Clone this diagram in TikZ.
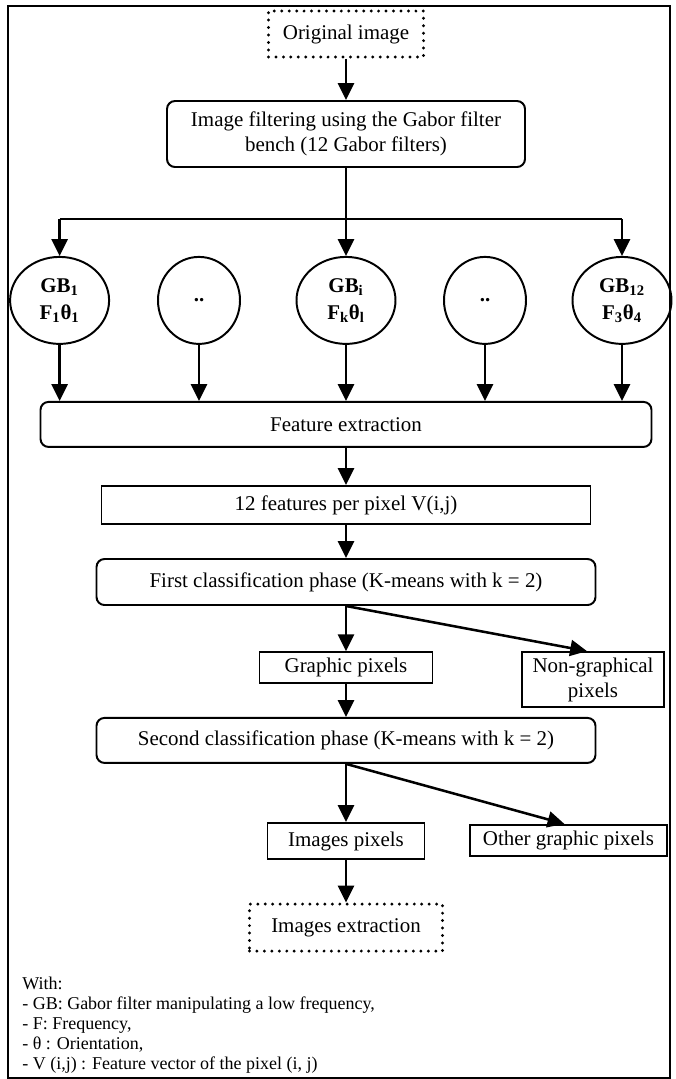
\documentclass[tikz,border=0pt]{standalone}
\usepackage{fontspec}
\setmainfont{Liberation Serif}
\usepackage{tikz}
\usetikzlibrary{positioning, arrows.meta, calc, shapes.geometric}

\begin{document}
\begin{tikzpicture}[
  txt/.style={font=\fontsize{14.9}{17.8}\selectfont, align=center, inner sep=0pt},
  proc/.style={txt, draw, line width=1.4pt},
  rproc/.style={proc, rounded corners=0.2cm},
  term/.style={txt, draw, line width=2.3pt, dash pattern=on 0pt off 5.3pt, line cap=round},
  gab/.style={txt, draw, ellipse, line width=1.4pt, minimum height=2.175cm, font=\fontsize{14.9}{19}\selectfont\bfseries},
  arr/.style={line width=1.8pt, -{Triangle[length=0.42cm,width=0.4cm]}}
]
\useasboundingbox (0, 0) rectangle (16.875, -26.975);
\draw[line width=1.4pt] (0.2, -0.15) rectangle (16.75, -26.95);

% top of the chain
\node[term, minimum width=3.875cm, minimum height=1.15cm] (orig) at (8.65, -0.85) {Original image};
\node[rproc, minimum width=8.95cm, minimum height=1.65cm] (filt) at (8.65, -3.35) {Image filtering using the Gabor filter\\bench (12 Gabor filters)};
\draw[arr] (orig) -- (filt);

% the 12 Gabor filters
\node[gab, minimum width=2.475cm] (gb1) at (1.49, -7.51) {GB\textsubscript{1}\\F\textsubscript{1}θ\textsubscript{1}};
\node[gab, minimum width=2.05cm] (dots1) at (4.975, -7.51) {..};
\node[gab, minimum width=2.475cm] (gbi) at (8.65, -7.51) {GB\textsubscript{i}\\F\textsubscript{k}θ\textsubscript{l}};
\node[gab, minimum width=2.05cm] (dots2) at (12.125, -7.51) {..};
\node[gab, minimum width=2.475cm] (gb12) at (15.55, -7.51) {GB\textsubscript{12}\\F\textsubscript{3}θ\textsubscript{4}};
\coordinate (split) at (8.65, -5.475);
\draw[line width=1.8pt] (gb1.north |- split) -- (gb12.north |- split);
\draw[arr] (filt) -- (gbi);
\draw[arr] (gb1.north |- split) -- (gb1.north);
\draw[arr] (gb12.north |- split) -- (gb12.north);

% features
\node[rproc, minimum width=15.275cm, minimum height=1.125cm] (feat) at (8.65, -10.61) {Feature extraction};
\foreach \g in {gb1, dots1, gbi, dots2, gb12}
  \draw[arr] (\g.south) -- (\g.south |- feat.north);
\node[proc, minimum width=12.225cm, minimum height=0.95cm] (vec) at (8.65, -12.625) {12 features per pixel V(i,j)};
\draw[arr] (feat) -- (vec);

% first classification
\node[rproc, minimum width=12.475cm, minimum height=1.15cm] (cls1) at (8.65, -14.55) {First classification phase (K-means with k = 2)};
\draw[arr] (vec) -- (cls1);
\node[proc, minimum width=4.325cm, minimum height=0.775cm] (gpix) at (8.65, -16.69) {Graphic pixels};
\node[proc, minimum width=3.55cm, minimum height=1.375cm] (ngpix) at (14.825, -16.99) {Non-graphical\\pixels};
\draw[arr] (cls1.south) -- (gpix.north);
\draw[arr] (cls1.south) -- ($(ngpix.north)+(-0.15, 0)$);

% second classification
\node[rproc, minimum width=12.475cm, minimum height=1.125cm] (cls2) at (8.65, -18.51) {Second classification phase (K-means with k = 2)};
\draw[arr] (gpix) -- (cls2);
\node[proc, minimum width=3.925cm, minimum height=0.9cm] (ipix) at (8.65, -21.025) {Images pixels};
\node[proc, minimum width=4.925cm, minimum height=0.775cm] (opix) at (14.21, -21.01) {Other graphic pixels};
\draw[arr] (cls2.south) -- (ipix.north);
\draw[arr] (cls2.south) -- ($(opix.north)+(-0.1, 0)$);
\node[term, minimum width=4.825cm, minimum height=1.175cm] (iext) at (8.65, -23.19) {Images extraction};
\draw[arr] (ipix) -- (iext);

% legend
\node[anchor=north west, align=left, inner sep=0pt, font=\fontsize{12.8}{14.2}\selectfont] (legend) at (0.55, -24.43) {With:\\- GB: Gabor filter manipulating a low frequency,\\- F: Frequency,\\- θ : Orientation,\\- V (i,j) : Feature vector of the pixel (i, j)};
\end{tikzpicture}
\end{document}
